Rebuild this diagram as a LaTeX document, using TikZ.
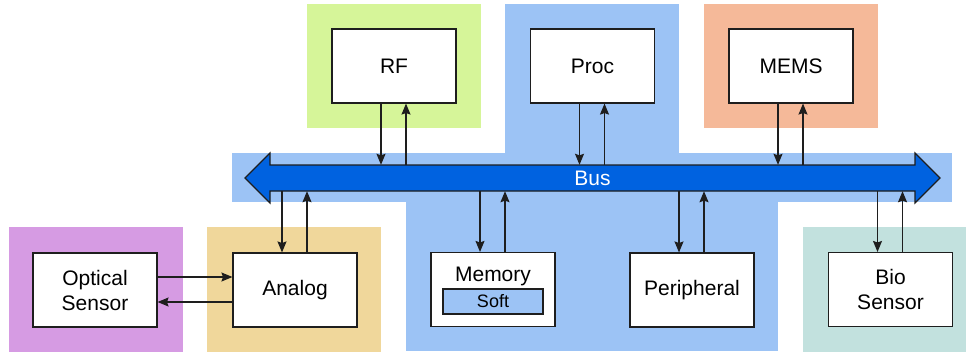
\documentclass[tikz,border=0pt]{standalone}
\usepackage{fontspec}
\setmainfont{Liberation Sans}
\usetikzlibrary{arrows.meta,calc}
\definecolor{cgreen}{RGB}{214,245,153}
\definecolor{cblue}{RGB}{156,195,245}
\definecolor{csalmon}{RGB}{245,185,153}
\definecolor{cpurple}{RGB}{214,155,227}
\definecolor{ctan}{RGB}{240,215,155}
\definecolor{cteal}{RGB}{194,225,222}
\definecolor{cbus}{RGB}{0,98,224}
\definecolor{cline}{RGB}{30,30,30}
\begin{document}
\begin{tikzpicture}[x=1pt,y=-1pt,
  blockbox/.style={draw=cline,fill=white,line width=1.1pt,minimum width=124pt,minimum height=74pt,inner sep=0pt,align=center,font=\fontsize{21}{25}\selectfont},
  softbox/.style={draw=cline,fill=cblue,line width=1.1pt,minimum width=100pt,minimum height=25pt,inner sep=0pt,font=\fontsize{18}{21}\selectfont},
  plain/.style={inner sep=0pt,font=\fontsize{21}{25}\selectfont},
  conn/.style={draw=cline,line width=1.1pt,-{Stealth[length=11pt,width=9pt,inset=1.5pt]}}]
\useasboundingbox (0,0) rectangle (966,354);
% backgrounds
\fill[cgreen] (307,4) rectangle (481,128);
\fill[csalmon] (704,4) rectangle (878,128);
\fill[cblue] (505,4) rectangle (679,153);
\fill[cblue] (232,153) rectangle (952,202);
\fill[cblue] (406,202) rectangle (778,351);
\fill[cpurple] (9,227) rectangle (183,352);
\fill[ctan] (207,227) rectangle (381,352);
\fill[cteal] (803,227) rectangle (966,352);
% bus
\draw[fill=cbus,draw=cline,line width=1.1pt] (245,178) -- (270,153) -- (270,165) -- (915,165) -- (915,153) -- (940,178) -- (915,203) -- (915,191) -- (270,191) -- (270,203) -- cycle;
\node[minimum width=645pt,minimum height=26pt,inner sep=0pt,text=white,font=\fontsize{21}{25}\selectfont] (bus) at (592.5,178) {Bus};
% blocks
\node[blockbox] (rf) at (394,66) {RF};
\node[blockbox] (proc) at (592.5,66) {Proc};
\node[blockbox] (mems) at (791,66) {MEMS};
\node[blockbox] (optical) at (95,290) {Optical\\Sensor};
\node[blockbox] (analog) at (295,290) {Analog};
\node[blockbox] (memory) at (493,289.5) {};
\node[plain] (memlabel) at (493,276) {Memory};
\node[softbox] (soft) at (493,301.5) {Soft};
\node[blockbox] (peripheral) at (692,290) {Peripheral};
\node[blockbox] (bio) at (890.5,289.5) {Bio\\Sensor};
% top connectors
\foreach \n in {rf,proc,mems}{
  \draw[conn] ([xshift=-13pt]\n.south) -- ([xshift=-13pt]\n.south |- bus.north);
  \draw[conn] ([xshift=12pt]\n.south |- bus.north) -- ([xshift=12pt]\n.south);
}
% bottom connectors
\foreach \n in {analog,memory,peripheral,bio}{
  \draw[conn] ([xshift=-13pt]\n.north |- bus.south) -- ([xshift=-13pt]\n.north);
  \draw[conn] ([xshift=12pt]\n.north) -- ([xshift=12pt]\n.north |- bus.south);
}
% optical <-> analog
\draw[conn] ([yshift=13pt]optical.east) -- ([yshift=13pt]optical.east -| analog.west);
\draw[conn] ([yshift=-12pt]optical.east -| analog.west) -- ([yshift=-12pt]optical.east);
\end{tikzpicture}
\end{document}
